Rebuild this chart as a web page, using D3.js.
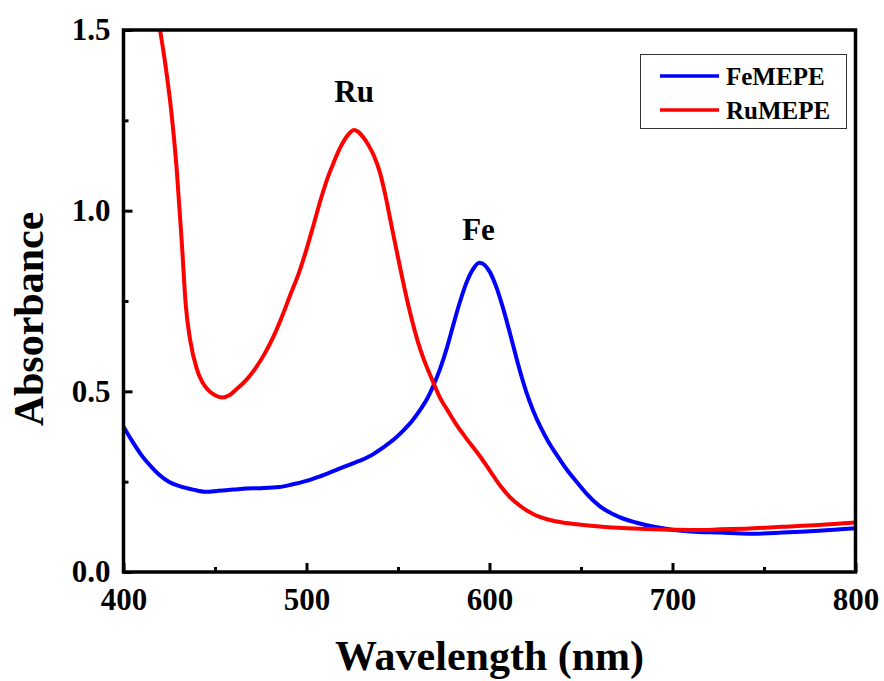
<!DOCTYPE html>
<html>
<head>
<meta charset="utf-8">
<script src="https://cdn.jsdelivr.net/npm/d3@7"></script>
<style>
  html, body { margin: 0; padding: 0; background: #fff; }
  svg { display: block; }
  text { font-family: "Liberation Serif", "Times New Roman", serif; font-weight: bold; fill: #000; }
</style>
</head>
<body>
<svg id="chart" width="884" height="681"></svg>
<script>
// ---- Data ----
const seriesNames = ["FeMEPE", "RuMEPE"];
const seriesColors = ["#0000ff", "#ff0000"];

const feWavelength = [400, 405, 410, 416, 420, 425, 431, 438, 445, 452, 460, 467, 475, 485, 492, 500, 507, 515, 525, 535, 542, 548, 553, 558, 562, 566, 569, 573, 577, 580, 584, 588, 591, 594.4, 597, 600, 604, 608, 612, 616, 620, 624, 628, 632, 637, 642, 648, 653, 660, 671, 680, 690, 700, 710, 726, 742, 760, 780, 800];
const feAbsorbance = [0.402, 0.36, 0.322, 0.287, 0.267, 0.249, 0.237, 0.228, 0.222, 0.225, 0.228, 0.231, 0.232, 0.235, 0.242, 0.252, 0.264, 0.28, 0.3, 0.322, 0.345, 0.368, 0.392, 0.42, 0.448, 0.48, 0.512, 0.562, 0.625, 0.68, 0.75, 0.808, 0.838, 0.856, 0.851, 0.832, 0.785, 0.72, 0.645, 0.568, 0.5, 0.445, 0.4, 0.362, 0.322, 0.285, 0.247, 0.217, 0.183, 0.152, 0.137, 0.125, 0.117, 0.112, 0.109, 0.106, 0.109, 0.114, 0.121];

const ruWavelength = [414, 417, 420, 423, 426, 429, 432, 434, 436.5, 440, 443, 446, 450, 454, 458, 462, 467, 472, 477, 482, 487, 491, 496, 500, 504, 508, 512, 515, 518, 521, 524, 526, 528, 531, 534, 537, 540, 543, 546, 549, 552, 555, 558, 561, 564, 567, 570, 573, 577, 581, 587, 595, 600, 606, 611, 617, 624, 633, 640, 650, 660, 675, 690, 700, 715, 726, 740, 760, 780, 800];
const ruAbsorbance = [1.70, 1.60, 1.50, 1.40, 1.28, 1.12, 0.90, 0.74, 0.64, 0.563, 0.526, 0.505, 0.489, 0.483, 0.49, 0.507, 0.531, 0.563, 0.603, 0.652, 0.712, 0.765, 0.83, 0.893, 0.963, 1.035, 1.097, 1.135, 1.17, 1.198, 1.217, 1.223, 1.219, 1.203, 1.18, 1.15, 1.108, 1.045, 0.97, 0.895, 0.822, 0.752, 0.69, 0.635, 0.59, 0.552, 0.516, 0.482, 0.448, 0.415, 0.372, 0.319, 0.282, 0.238, 0.208, 0.182, 0.16, 0.144, 0.137, 0.131, 0.126, 0.121, 0.118, 0.117, 0.116, 0.118, 0.12, 0.125, 0.13, 0.137];

const xMajorTicks = [400, 500, 600, 700, 800];
const xMinorTicks = [450, 550, 650, 750];
const yMajorTicks = [0, 0.5, 1.0, 1.5];
const yMinorTicks = [0.25, 0.75, 1.25];

const peakLabels = ["Ru", "Fe"];
const peakLabelX = [526, 594];
const peakLabelY = [1.30, 0.92];

// ---- Layout ----
const svg = d3.select("#chart");
const margin = { left: 123.5, top: 30, right: 884 - 855.5, bottom: 681 - 572 };
const W = 884 - margin.left - margin.right;
const H = 681 - margin.top - margin.bottom;

const x = d3.scaleLinear().domain([400, 800]).range([0, W]);
const y = d3.scaleLinear().domain([0, 1.5]).range([H, 0]);

const g = svg.append("g").attr("transform", `translate(${margin.left},${margin.top})`);

g.append("clipPath").attr("id", "plotclip")
  .append("rect").attr("x", 0).attr("y", 0).attr("width", W).attr("height", H);

// Curves
const line = d3.line().x(d => x(d[0])).y(d => y(d[1])).curve(d3.curveMonotoneX);
const feData = feWavelength.map((w, i) => [w, feAbsorbance[i]]);
const ruData = ruWavelength.map((w, i) => [w, ruAbsorbance[i]]);

const curves = g.append("g").attr("clip-path", "url(#plotclip)");
curves.append("path").datum(feData).attr("d", line)
  .attr("fill", "none").attr("stroke", seriesColors[0]).attr("stroke-width", 4)
  .attr("stroke-linejoin", "round");
curves.append("path").datum(ruData).attr("d", line)
  .attr("fill", "none").attr("stroke", seriesColors[1]).attr("stroke-width", 4)
  .attr("stroke-linejoin", "round");

// Axes (ticks inward)
const fontSize = 31;
const xAxis = g.append("g").attr("transform", `translate(0,${H})`)
  .call(d3.axisBottom(x).tickValues(xMajorTicks).tickSizeInner(-9).tickSizeOuter(0).tickPadding(16).tickFormat(d3.format("d")));
const xMinor = g.append("g").attr("transform", `translate(0,${H})`)
  .call(d3.axisBottom(x).tickValues(xMinorTicks).tickSizeInner(-5).tickSizeOuter(0).tickFormat(""));
const yAxis = g.append("g")
  .call(d3.axisLeft(y).tickValues(yMajorTicks).tickSizeInner(-9).tickSizeOuter(0).tickPadding(13).tickFormat(d3.format(".1f")));
const yMinor = g.append("g")
  .call(d3.axisLeft(y).tickValues(yMinorTicks).tickSizeInner(-5).tickSizeOuter(0).tickFormat(""));

[xAxis, xMinor, yAxis, yMinor].forEach(a => {
  a.select(".domain").remove();
  a.selectAll(".tick line").attr("stroke", "#000").attr("stroke-width", 3);
  a.selectAll(".tick text")
    .style("font-family", '"Liberation Serif", "Times New Roman", serif')
    .style("font-weight", "bold").style("font-size", fontSize + "px").attr("fill", "#000");
});

// Frame
g.append("rect").attr("x", 0).attr("y", 0).attr("width", W).attr("height", H)
  .attr("fill", "none").attr("stroke", "#000").attr("stroke-width", 3.5);

// Peak labels
peakLabels.forEach((t, i) => {
  g.append("text").attr("x", x(peakLabelX[i])).attr("y", y(peakLabelY[i]))
    .attr("text-anchor", "middle").style("font-size", "31px").text(t);
});

// Legend
const legend = svg.append("g");
legend.append("rect").attr("x", 640.5).attr("y", 54.5).attr("width", 206).attr("height", 74)
  .attr("fill", "#fff").attr("stroke", "#333").attr("stroke-width", 1);
const legY = [76, 110];
seriesNames.forEach((n, i) => {
  legend.append("line").attr("x1", 660).attr("x2", 719).attr("y1", legY[i]).attr("y2", legY[i])
    .attr("stroke", seriesColors[i]).attr("stroke-width", 3.5);
  legend.append("text").attr("x", 726).attr("y", legY[i] + 8.5)
    .style("font-size", "25px").text(n);
});

// Axis titles
svg.append("text").attr("x", margin.left + W / 2).attr("y", 670)
  .attr("text-anchor", "middle").style("font-size", "42px").text("Wavelength (nm)");
svg.append("text").attr("transform", `translate(43,319) rotate(-90)`)
  .attr("text-anchor", "middle").style("font-size", "42px").text("Absorbance");
</script>
</body>
</html>
